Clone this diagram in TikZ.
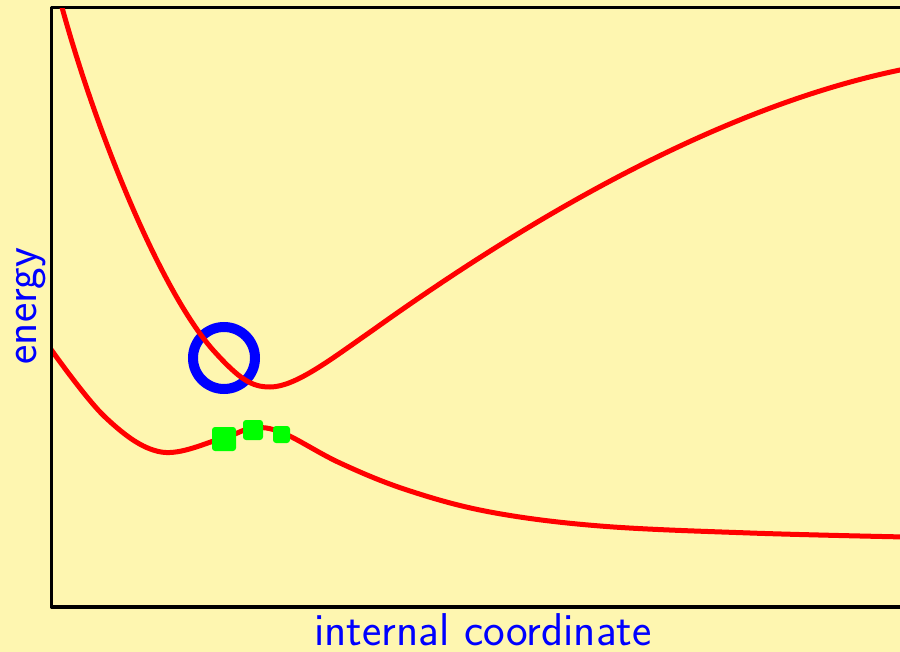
\documentclass[tikz,border=0pt]{standalone}
\usepackage{tikz}
\usetikzlibrary{positioning}
\definecolor{paper}{HTML}{FEF6B0}
\definecolor{curve}{HTML}{FF0000}
\definecolor{mark}{HTML}{0000FF}
\definecolor{spot}{HTML}{00FF00}
\begin{document}
\begin{tikzpicture}[x=1pt, y=-1pt,
  axis/.style={line width=3.5pt, draw=black, line join=round},
  pes/.style={line width=5pt, draw=curve},
  ring/.style={circle, draw=mark, line width=10pt, minimum size=62pt, inner sep=0pt},
  dot/.style={rectangle, fill=spot, rounded corners=3pt, minimum size=#1, inner sep=0pt},
  lab/.style={text=mark, font=\sffamily\fontsize{46}{52}\selectfont, inner sep=0pt}]
\fill[paper] (0,0) rectangle (900,652);
\useasboundingbox (0,0) rectangle (900,652);
% ---------------- frame
\begin{scope}
\clip (0,0) rectangle (900,652);
\draw[axis] (910,7.5) -- (51.5,7.5) -- (51.5,607) -- (910,607);
\end{scope}
% ---------------- marker behind the curves
\node[ring] (cross) at (224,358) {};
% ---------------- curves
\coordinate (uA) at (60,0);
\coordinate (uB) at (213,350);
\coordinate (uC) at (270,387);
\coordinate (uD) at (373,330);
\coordinate (uE) at (905,69);
\coordinate (lA) at (50,348);
\coordinate (lE) at (905,537);
\begin{scope}
\clip (53,9) rectangle (900,605);
\draw[pes] (uA) .. controls (95,130) and (160,290) .. (uB)
  .. controls (240,380) and (252,387) .. (uC)
  .. controls (295,387) and (330,360) .. (uD)
  .. controls (495,243) and (700,110) .. (uE);
\draw[pes, smooth, tension=0.6] plot coordinates {(lA) (105,417) (161,452) (223,438) (253,428) (283,433) (340,463) (407,490) (490,512) (600,526) (750,533) (lE)};
\end{scope}
% ---------------- points on the lower curve
\node[dot=24pt] (p1) at (224,439) {};
\node[dot=20pt] (p2) at (253,430) {};
\node[dot=17pt] (p3) at (281.5,434.5) {};
% ---------------- axis labels
\node[lab, rotate=90, anchor=base] (ylab) at (36,306) {energy};
\node[lab, anchor=base] (xlab) at (483,645) {internal coordinate};
\end{tikzpicture}
\end{document}
